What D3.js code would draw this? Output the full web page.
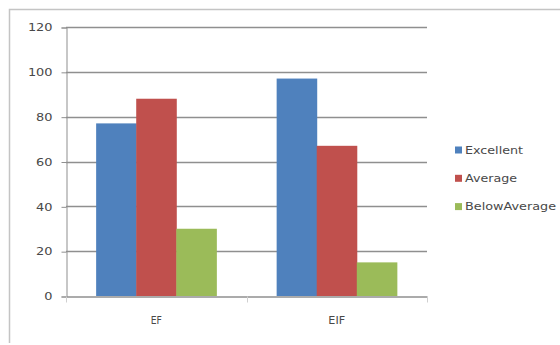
<!DOCTYPE html>
<html><head><meta charset="utf-8">
<script src="https://cdn.jsdelivr.net/npm/d3@7"></script>
<style>body{margin:0;background:#fff}svg{display:block}</style>
</head><body>
<script>
const categories = ["EF", "EIF"];
const seriesNames = ["Excellent", "Average", "BelowAverage"];
const excellent = [77, 97];
const average = [88, 67];
const belowAverage = [30, 15];
const yTicks = [0, 20, 40, 60, 80, 100, 120];
const colors = ["#4F81BD", "#C0504D", "#9BBB59"];

const values = [excellent, average, belowAverage];
const W = 560, H = 345;
const svg = d3.select("body").append("svg").attr("width", W).attr("height", H);
svg.append("rect").attr("width", W).attr("height", H).attr("fill", "#fff");
// chart border (top and left visible)
svg.append("path").attr("d", "M9.5,343 L9.5,9.5 L560,9.5").attr("fill", "none").attr("stroke", "#c4c4c4").attr("stroke-width", 1.5);

const pLeft = 66, pRight = 427, pTop = 27, pBottom = 296;
const x = d3.scaleBand().domain(categories).range([pLeft, pRight]).paddingInner(0.334).paddingOuter(0.167);
const xs = d3.scaleBand().domain(seriesNames).range([0, x.bandwidth()]);
const y = d3.scaleLinear().domain([0, 120]).range([pBottom, pTop]);

// gridlines
svg.append("g").selectAll("line").data(yTicks.filter(t => t > 0)).join("line")
  .attr("x1", pLeft).attr("x2", pRight)
  .attr("y1", d => Math.round(y(d)) + 0.5).attr("y2", d => Math.round(y(d)) + 0.5)
  .attr("stroke", "#8f8f8f").attr("stroke-width", 1.3);

// y axis
const ya = d3.axisLeft(y).tickValues(yTicks).tickSize(5).tickPadding(9);
const yg = svg.append("g").attr("transform", `translate(${pLeft + 0.5},0.5)`).call(ya);
yg.select(".domain").attr("stroke", "#8f8f8f");
yg.selectAll(".tick line").attr("stroke", "#8f8f8f");
yg.selectAll("text").attr("font-family", "DejaVu Sans, sans-serif").attr("font-size", 10).attr("fill", "#484848")
  .attr("textLength", d => String(d).length * 8.2).attr("lengthAdjust", "spacingAndGlyphs");

// bars
const groups = svg.append("g").selectAll("g").data(categories).join("g")
  .attr("transform", d => `translate(${x(d)},0)`);
groups.selectAll("rect").data((c, i) => seriesNames.map((s, j) => ({ s, v: values[j][i], j })))
  .join("rect")
  .attr("x", d => xs(d.s)).attr("width", xs.bandwidth() + 0.5)
  .attr("y", d => y(d.v)).attr("height", d => y(0) - y(d.v))
  .attr("fill", d => colors[d.j]);

// x axis
const xa = d3.axisBottom(x).tickSize(0).tickPadding(20);
const xg = svg.append("g").attr("transform", `translate(0,${pBottom + 0.5})`).call(xa);
xg.select(".domain").attr("stroke", "#8f8f8f").attr("stroke-width", 1.3);
xg.selectAll("text").attr("font-family", "DejaVu Sans, sans-serif").attr("font-size", 10).attr("fill", "#484848")
  .attr("textLength", d => d.length * 5.6).attr("lengthAdjust", "spacingAndGlyphs");
// category boundary ticks
const bounds = [pLeft, (x(categories[0]) + x.bandwidth() + x(categories[1])) / 2, pRight];
xg.selectAll(".bt").data(bounds).join("line").attr("class", "bt")
  .attr("x1", d => Math.round(d) + 0.5).attr("x2", d => Math.round(d) + 0.5)
  .attr("y1", 0).attr("y2", 6).attr("stroke", "#d0d0d0");

// legend
const legend = svg.append("g").selectAll("g").data(seriesNames).join("g")
  .attr("transform", (d, i) => `translate(455,${150 + i * 28.3})`);
legend.append("rect").attr("x", 0).attr("y", -3.5).attr("width", 7).attr("height", 7)
  .attr("fill", (d, i) => colors[i]);
const widths = { "Excellent": 58, "Average": 52, "BelowAverage": 91 };
legend.append("text").attr("x", 10).attr("y", 0).attr("dy", "0.35em")
  .attr("font-family", "DejaVu Sans, sans-serif").attr("font-size", 10).attr("fill", "#484848")
  .attr("textLength", d => widths[d]).attr("lengthAdjust", "spacingAndGlyphs")
  .text(d => d);
</script>
</body></html>
